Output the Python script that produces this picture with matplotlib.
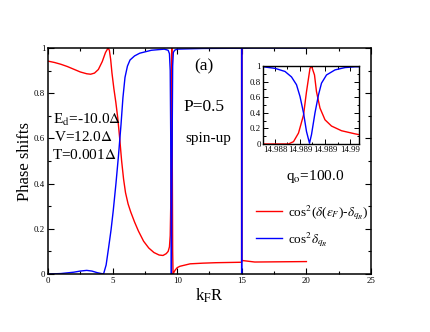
import matplotlib
matplotlib.use("Agg")
import matplotlib.pyplot as plt
from matplotlib.ticker import MultipleLocator, FixedLocator, FixedFormatter

plt.rcParams['font.family'] = ['Liberation Serif', 'DejaVu Serif']
plt.rcParams['mathtext.fontset'] = 'stix'

# ---- main panel data: k_F R vs phase-shift quantities ----
red_k = [0.0, 0.5, 1.0, 1.5, 2.0, 2.5, 3.0, 3.3, 3.6, 3.9, 4.2, 4.45, 4.65, 4.75, 4.85,
         4.95, 5.1, 5.25, 5.4, 5.55, 5.7, 5.85, 6.0, 6.2, 6.4, 6.7, 7.0, 7.4, 7.8, 8.2,
         8.6, 8.9, 9.15, 9.3, 9.4, 9.46, 9.5, 9.53, 9.56, 9.58, 9.6, 9.62, 9.65, 9.68,
         9.75, 9.85, 10.0, 10.2, 11.0, 12.0, 13.0, 14.0, 14.987, 14.9887, 14.9905, 16.0, 18.0, 20.0]
red_v = [0.942, 0.936, 0.928, 0.918, 0.906, 0.894, 0.886, 0.884, 0.889, 0.905, 0.94, 0.98, 1.0, 0.99, 0.95,
         0.89, 0.82, 0.76, 0.69, 0.60, 0.50, 0.42, 0.36, 0.31, 0.275, 0.23, 0.19, 0.145, 0.115, 0.095,
         0.084, 0.082, 0.09, 0.1, 0.12, 0.17, 0.3, 0.6, 0.95, 1.0, 0.9, 0.5, 0.1, 0.0,
         0.008, 0.018, 0.028, 0.034, 0.045, 0.048, 0.05, 0.051, 0.052, 1.0, 0.06, 0.053, 0.054, 0.055]

blue_k = [0.0, 1.0, 2.0, 2.5, 3.0, 3.4, 3.8, 4.3, 4.5, 4.7, 4.88, 5.05, 5.26, 5.45, 5.65,
          5.8, 5.96, 6.15, 6.35, 6.7, 7.1, 8.0, 9.0, 9.3, 9.4, 9.46, 9.5, 9.55, 9.6, 9.65,
          9.7, 9.8, 10.0, 12.0, 14.987, 14.9887, 14.9905, 16.0, 20.0]
blue_v = [0.0, 0.002, 0.008, 0.013, 0.016, 0.013, 0.006, 0.0, 0.04, 0.12, 0.195, 0.28, 0.4, 0.52, 0.66,
          0.78, 0.87, 0.92, 0.947, 0.965, 0.977, 0.99, 0.995, 0.99, 0.975, 0.9, 0.6, 0.0, 0.5, 0.92,
          0.98, 0.99, 0.995, 0.998, 0.999, 0.0, 0.999, 1.0, 1.0]

# ---- inset data: zoom around the narrow resonance ----
in_red_k = [14.98776, 14.9880, 14.98827, 14.98837, 14.98847, 14.98857, 14.98863, 14.98870,
            14.98873, 14.98879, 14.98883, 14.98890, 14.98900, 14.98913, 14.98933, 14.98960, 14.98968]
in_red_v = [0.0, 0.0, 0.0, 0.03, 0.14, 0.37, 0.67, 0.97,
            1.0, 0.885, 0.67, 0.46, 0.31, 0.23, 0.17, 0.13, 0.12]
in_blue_k = [14.98776, 14.9880, 14.9882, 14.98833, 14.98843, 14.9885, 14.98857, 14.98863,
             14.98869, 14.98873, 14.9888, 14.98887, 14.98893, 14.98903, 14.9892, 14.9894, 14.9896, 14.98968]
in_blue_v = [0.99, 0.97, 0.93, 0.86, 0.76, 0.61, 0.40, 0.16,
             0.01, 0.12, 0.40, 0.63, 0.78, 0.885, 0.95, 0.98, 0.99, 0.99]
in_ticks = [14.988, 14.9885, 14.989, 14.9895]
in_tick_labels = ["14.988", "14.989", "14.989", "14.99"]

legend_red = r"cos$^2$($\delta$($\varepsilon_F$)-$\delta_{q_R}$)"
legend_blue = r"cos$^2$$\delta_{q_R}$"

fig = plt.figure(figsize=(4.30, 3.32), dpi=100)
ax = fig.add_axes([0.1116, 0.1747, 0.7512, 0.6807])

lr, = ax.plot(red_k, red_v, color='#ff0000', lw=1.0, label=legend_red)
lb, = ax.plot(blue_k, blue_v, color='#0000ff', lw=1.0, label=legend_blue)

ax.set_xlim(0, 25)
ax.set_ylim(0, 1)
ax.xaxis.set_major_locator(MultipleLocator(5))
ax.xaxis.set_minor_locator(MultipleLocator(2.5))
ax.yaxis.set_major_locator(MultipleLocator(0.2))
ax.yaxis.set_minor_locator(MultipleLocator(0.1))
ax.tick_params(which='both', direction='in', top=True, right=True, labelsize=6.3, pad=2)
ax.tick_params(which='major', length=4, width=0.8)
ax.tick_params(which='minor', length=2, width=0.8)
ax.yaxis.set_major_formatter(plt.FuncFormatter(lambda v, p: ('%g' % round(v, 2))))
for s in ax.spines.values():
    s.set_linewidth(1.1)

ax.set_xlabel(r"k$_\mathrm{F}$R", fontsize=12, labelpad=1)
ax.set_ylabel("Phase shifts", fontsize=12, labelpad=0.5)

ax.text(12.1, 0.917, "(a)", fontsize=12.5, ha='center', va='center')
ax.text(12.1, 0.74, "P=0.5", fontsize=12.5, ha='center', va='center')
ax.text(12.4, 0.60, "spin-up", fontsize=11, ha='center', va='center')
ax.text(0.4, 0.68, r"E$_\mathrm{d}$=-10.0$\Delta$", fontsize=11, ha='left', va='center')
ax.text(0.45, 0.605, r"V=12.0$\Delta$", fontsize=11, ha='left', va='center')
ax.text(0.3, 0.527, r"T=0.001$\Delta$", fontsize=11, ha='left', va='center')
ax.text(18.45, 0.43, r"q$_\mathrm{o}$=100.0", fontsize=11, ha='left', va='center')

ax.legend(handles=[lr, lb], loc='upper left', bbox_to_anchor=(0.615, 0.355),
          frameon=False, fontsize=9.5, handlelength=1.95, handletextpad=0.5,
          labelspacing=0.6, borderpad=0.2)

# inset
axi = fig.add_axes([0.6116, 0.5663, 0.2233, 0.2349])
axi.plot(in_red_k, in_red_v, color='#ff0000', lw=1.0)
axi.plot(in_blue_k, in_blue_v, color='#0000ff', lw=1.0)
axi.set_xlim(14.98776, 14.98968)
axi.set_ylim(0, 1)
axi.xaxis.set_major_locator(FixedLocator(in_ticks))
axi.xaxis.set_major_formatter(FixedFormatter(in_tick_labels))
axi.xaxis.set_minor_locator(MultipleLocator(0.00025))
axi.yaxis.set_major_locator(MultipleLocator(0.2))
axi.yaxis.set_minor_locator(MultipleLocator(0.1))
axi.yaxis.set_major_formatter(plt.FuncFormatter(lambda v, p: ('%g' % round(v, 2))))
axi.tick_params(which='both', direction='in', top=True, right=True, labelsize=6.3, pad=1.5)
axi.tick_params(which='major', length=3.5, width=0.7)
axi.tick_params(which='minor', length=1.8, width=0.7)
for s in axi.spines.values():
    s.set_linewidth(1.0)

fig.savefig("out.png", dpi=100)
